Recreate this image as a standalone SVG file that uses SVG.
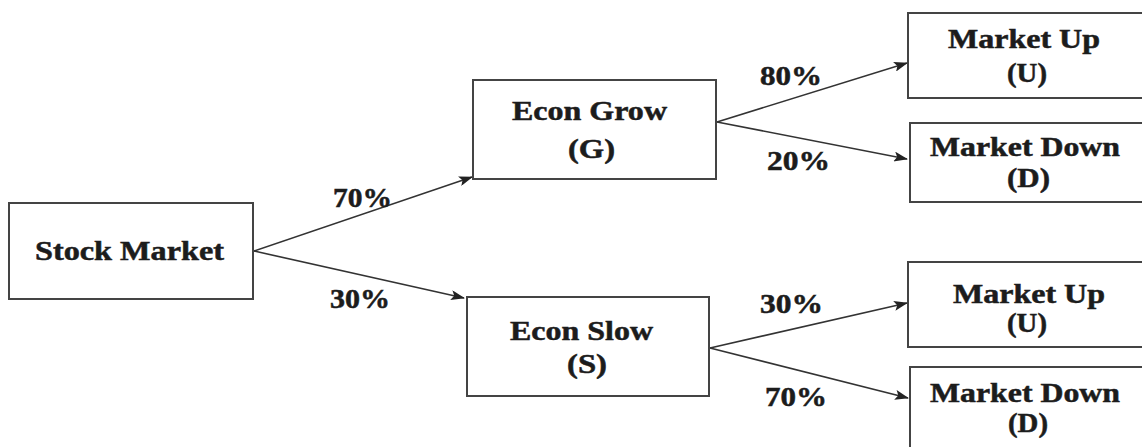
<svg xmlns="http://www.w3.org/2000/svg" width="1142" height="447" viewBox="0 0 1142 447">
<defs>
<style>
.box{fill:#fff;stroke:#444;stroke-width:2}
.t{font-family:"Liberation Serif","Times New Roman",serif;font-weight:bold;font-size:27px;fill:#1c1c1c;stroke:#1c1c1c;stroke-width:0.5}
.c{stroke:#333;stroke-width:1.6;fill:none;marker-end:url(#ah)}
</style>
<marker id="ah" viewBox="0 0 14 10" refX="13" refY="5" markerWidth="14" markerHeight="10" markerUnits="userSpaceOnUse" orient="auto">
<path d="M0,0 L14,5 L0,10 L3,5 Z" fill="#222"/>
</marker>
</defs>
<rect width="1142" height="447" fill="#fff"/>
<g id="connectors">
<line class="c" x1="254" y1="251" x2="472" y2="177"/>
<line class="c" x1="254" y1="251" x2="464" y2="298"/>
<line class="c" x1="717" y1="122" x2="907" y2="63"/>
<line class="c" x1="717" y1="122" x2="907" y2="159"/>
<line class="c" x1="710" y1="348" x2="907" y2="303"/>
<line class="c" x1="710" y1="348" x2="908" y2="398"/>
</g>
<g id="labels">
<text class="t" x="333" y="207" textLength="59" lengthAdjust="spacingAndGlyphs">70%</text>
<text class="t" x="330" y="308" textLength="60" lengthAdjust="spacingAndGlyphs">30%</text>
<text class="t" x="760" y="85" textLength="62" lengthAdjust="spacingAndGlyphs">80%</text>
<text class="t" x="767" y="170" textLength="63" lengthAdjust="spacingAndGlyphs">20%</text>
<text class="t" x="760" y="313" textLength="63" lengthAdjust="spacingAndGlyphs">30%</text>
<text class="t" x="765" y="406" textLength="62" lengthAdjust="spacingAndGlyphs">70%</text>
</g>
<g id="stock-market">
<rect class="box" x="9" y="203" width="244" height="96"/>
<text class="t" x="35" y="260" textLength="189" lengthAdjust="spacingAndGlyphs">Stock Market</text>
</g>
<g id="econ-grow">
<rect class="box" x="473" y="80" width="243" height="99"/>
<text class="t" x="512" y="120" textLength="155" lengthAdjust="spacingAndGlyphs">Econ Grow</text>
<text class="t" x="568" y="158" textLength="47" lengthAdjust="spacingAndGlyphs">(G)</text>
</g>
<g id="econ-slow">
<rect class="box" x="467" y="297" width="242" height="99"/>
<text class="t" x="510" y="340" textLength="143" lengthAdjust="spacingAndGlyphs">Econ Slow</text>
<text class="t" x="567" y="373" textLength="40" lengthAdjust="spacingAndGlyphs">(S)</text>
</g>
<g id="market-up-1">
<rect class="box" x="908" y="13" width="260" height="85"/>
<text class="t" x="948" y="48" textLength="152" lengthAdjust="spacingAndGlyphs">Market Up</text>
<text class="t" x="1007" y="82" textLength="40" lengthAdjust="spacingAndGlyphs">(U)</text>
</g>
<g id="market-down-1">
<rect class="box" x="910" y="123" width="260" height="79"/>
<text class="t" x="930" y="156" textLength="190" lengthAdjust="spacingAndGlyphs">Market Down</text>
<text class="t" x="1007" y="187" textLength="43" lengthAdjust="spacingAndGlyphs">(D)</text>
</g>
<g id="market-up-2">
<rect class="box" x="908" y="262" width="260" height="85"/>
<text class="t" x="953" y="303" textLength="152" lengthAdjust="spacingAndGlyphs">Market Up</text>
<text class="t" x="1007" y="332" textLength="40" lengthAdjust="spacingAndGlyphs">(U)</text>
</g>
<g id="market-down-2">
<rect class="box" x="910" y="367" width="260" height="100"/>
<text class="t" x="930" y="402" textLength="190" lengthAdjust="spacingAndGlyphs">Market Down</text>
<text class="t" x="1008" y="432" textLength="40" lengthAdjust="spacingAndGlyphs">(D)</text>
</g>
</svg>
